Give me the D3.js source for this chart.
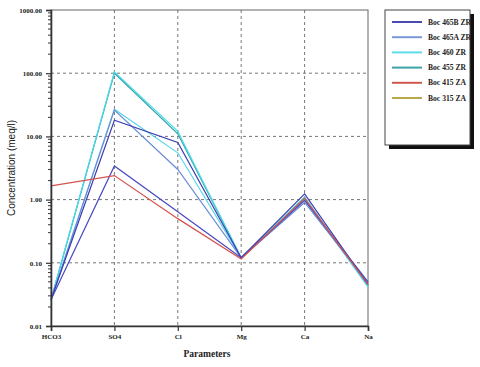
<!DOCTYPE html>
<html>
<head>
<meta charset="utf-8">
<script src="https://d3js.org/d3.v7.min.js"></script>
<style>
  body { margin: 0; background: #fff; }
  svg text { font-family: "Liberation Serif", "Times New Roman", serif; font-weight: bold; fill: #222; }
</style>
</head>
<body>
<div id="chart"></div>
<script>
// parametros (eixo x)
var parametros = ["HCO3", "SO4", "Cl", "Mg", "Ca", "Na"];
var ticksY = [0.01, 0.1, 1, 10, 100, 1000];

// amostras desenhadas (ordem de desenho)
var nomesSeries = ["Boc 455 ZR", "Boc 460 ZR", "Boc 460 ZR b", "Boc 465A ZR", "Boc 465B ZR", "Boc 465B ZR b", "Boc 415 ZA"];
var coresSeries = ["#35a2ac", "#48dbe8", "#58d6ec", "#6b8cd6", "#3d3db0", "#4848c2", "#d4524c"];
var valoresSeries = [
  [0.026, 100, 11, 0.12, 1.05, 0.044],
  [0.026, 105, 12, 0.12, 1.10, 0.041],
  [0.026, 27, 5.5, 0.12, 1.00, 0.043],
  [0.026, 26, 3.0, 0.12, 0.90, 0.048],
  [0.026, 18, 8.0, 0.12, 1.23, 0.045],
  [0.026, 3.4, 0.64, 0.12, 0.97, 0.050],
  [1.65, 2.4, 0.50, 0.115, 1.05, 0.045]
];

// legenda
var nomesLegenda = ["Boc 465B ZR", "Boc 465A ZR", "Boc 460 ZR", "Boc 455 ZR", "Boc 415 ZA", "Boc 315 ZA"];
var coresLegenda = ["#4b4bb4", "#7a98d8", "#5fdcea", "#3ea2aa", "#d0584e", "#b8a84a"];

var largura = 480, altura = 367;
var margin = {top: 10, right: 112, bottom: 41, left: 51};

var svg = d3.select("#chart").append("svg")
  .attr("width", largura).attr("height", altura);

var x = d3.scalePoint().domain(parametros).range([margin.left, largura - margin.right]);
var y = d3.scaleLog().domain([0.01, 1000]).range([altura - margin.bottom, margin.top]);

// grade tracejada
svg.append("g").selectAll("line").data(ticksY.slice(1, -1)).enter().append("line")
  .attr("x1", margin.left).attr("x2", largura - margin.right)
  .attr("y1", d => y(d)).attr("y2", d => y(d))
  .attr("stroke", "#777").attr("stroke-dasharray", "3,3").attr("stroke-width", 1);
svg.append("g").selectAll("line").data(parametros.slice(1, -1)).enter().append("line")
  .attr("x1", d => x(d)).attr("x2", d => x(d))
  .attr("y1", margin.top).attr("y2", altura - margin.bottom)
  .attr("stroke", "#777").attr("stroke-dasharray", "3,3").attr("stroke-width", 1);

// moldura
svg.append("rect")
  .attr("x", margin.left).attr("y", margin.top)
  .attr("width", largura - margin.right - margin.left)
  .attr("height", altura - margin.bottom - margin.top)
  .attr("fill", "none").attr("stroke", "#666").attr("stroke-width", 1);

// linhas das amostras
var linha = d3.line().x((d, i) => x(parametros[i])).y(d => y(d));
svg.append("g").selectAll("path").data(valoresSeries).enter().append("path")
  .attr("d", linha)
  .attr("fill", "none")
  .attr("stroke", (d, i) => coresSeries[i])
  .attr("stroke-width", 1.2);

// eixo y (log)
var eixoY = d3.axisLeft(y).tickValues(ticksY).tickFormat(d3.format(".2f")).tickSize(5).tickPadding(4);
var gy = svg.append("g").attr("transform", "translate(" + margin.left + ",0)").call(eixoY);
var menores = [];
ticksY.slice(0, -1).forEach(function(t) { for (var k = 2; k <= 9; k++) menores.push(t * k); });
gy.selectAll(".menor").data(menores).enter().append("line")
  .attr("class", "menor").attr("x1", -3).attr("x2", 0)
  .attr("y1", d => y(d)).attr("y2", d => y(d)).attr("stroke", "#333");

// eixo x
var eixoX = d3.axisBottom(x).tickSize(5).tickPadding(3);
var gx = svg.append("g").attr("transform", "translate(0," + (altura - margin.bottom) + ")").call(eixoX);

[gx, gy].forEach(function(g) {
  g.select(".domain").attr("stroke", "#333").attr("stroke-width", 1.6);
  g.selectAll(".tick line").attr("stroke", "#333").attr("stroke-width", 1.2);
  g.selectAll("text").attr("font-family", "Liberation Serif, serif").attr("font-weight", "bold")
    .attr("font-size", 7).attr("fill", "#222");
});

// titulos dos eixos
svg.append("text")
  .attr("x", 207).attr("y", 357)
  .attr("text-anchor", "middle").attr("font-size", 9.5)
  .text("Parameters");
svg.append("text")
  .attr("transform", "translate(15,168) rotate(-90)")
  .attr("text-anchor", "middle")
  .style("font-family", "Liberation Sans, Arial, sans-serif").style("font-weight", "normal")
  .attr("font-size", 10).attr("fill", "#333")
  .text("Concentration (meq/l)");

// legenda
var leg = svg.append("g").attr("transform", "translate(385,10)");
leg.append("rect").attr("x", 4).attr("y", 4).attr("width", 85).attr("height", 135).attr("fill", "#111");
leg.append("rect").attr("x", 0).attr("y", 0).attr("width", 85).attr("height", 135)
  .attr("fill", "#fff").attr("stroke", "#444").attr("stroke-width", 1);
var itens = leg.selectAll(".item").data(nomesLegenda).enter().append("g")
  .attr("class", "item")
  .attr("transform", (d, i) => "translate(0," + (12 + i * 15.2) + ")");
itens.append("line").attr("x1", 7).attr("x2", 37)
  .attr("stroke", (d, i) => coresLegenda[i]).attr("stroke-width", 2);
itens.append("text").attr("x", 43).attr("y", 2.5)
  .attr("font-size", 7.6).text(d => d);
</script>
</body>
</html>
